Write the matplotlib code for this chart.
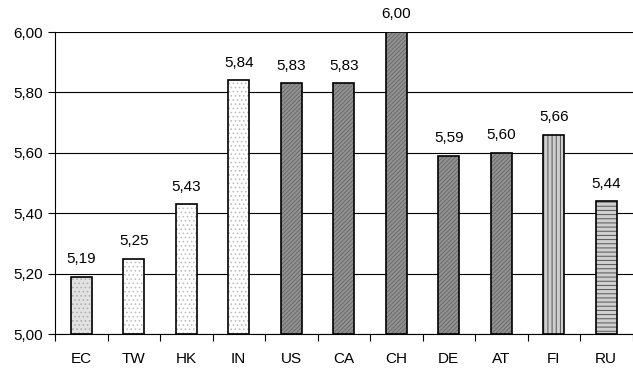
import matplotlib
matplotlib.use("Agg")
import matplotlib.pyplot as plt
import numpy as np

plt.rcParams['font.family'] = ['Liberation Sans', 'DejaVu Sans']
plt.rcParams['hatch.linewidth'] = 0.7

countries = ["EC", "TW", "HK", "IN", "US", "CA", "CH", "DE", "AT", "FI", "RU"]
scores = [5.19, 5.25, 5.43, 5.84, 5.83, 5.83, 6.00, 5.59, 5.60, 5.66, 5.44]
y_ticks = [5.00, 5.20, 5.40, 5.60, 5.80, 6.00]

# fill colour, hatch pattern, hatch colour per group of countries
styles = {
    "EC": ("#e2e2e2", "....", "#b0b0b0"),
    "TW": ("#ffffff", "....", "#c0c0c0"),
    "HK": ("#ffffff", "....", "#c0c0c0"),
    "IN": ("#ffffff", "....", "#c0c0c0"),
    "US": ("#929292", "////////", "#6a6a6a"),
    "CA": ("#929292", "////////", "#6a6a6a"),
    "CH": ("#929292", "////////", "#6a6a6a"),
    "DE": ("#929292", "////////", "#6a6a6a"),
    "AT": ("#929292", "////////", "#6a6a6a"),
    "FI": ("#cfcfcf", "||||", "#555555"),
    "RU": ("#cfcfcf", "----", "#555555"),
}

fig = plt.figure(figsize=(6.33, 3.69), dpi=100)
ax = fig.add_axes([55 / 633, 35 / 369, 577.5 / 633, 302 / 369])

x = np.arange(len(countries))
base = 5.0
heights = [s - base for s in scores]
width = 0.4

for xi, c, h in zip(x, countries, heights):
    fc, hatch, hc = styles[c]
    ax.bar(xi, h, width=width, bottom=base, color=fc, hatch=hatch,
           edgecolor=hc, linewidth=0, zorder=2)
    ax.bar(xi, h, width=width, bottom=base, fill=False,
           edgecolor="black", linewidth=1.2, zorder=3)

for xi, s in zip(x, scores):
    ax.text(xi, s + 0.035, f"{s:.2f}".replace(".", ","), ha="center",
            va="bottom", fontsize=11, color="black")

ax.set_ylim(5.0, 6.0)
ax.set_xlim(-0.5, len(countries) - 0.5)
ax.set_yticks(y_ticks)
ax.set_yticklabels([f"{v:.2f}".replace(".", ",") for v in y_ticks], fontsize=11)
ax.set_xticks(x)
ax.set_xticklabels(countries, fontsize=11)
ax.set_xticks(np.arange(-0.5, len(countries), 1.0), minor=True)
ax.tick_params(axis="x", which="major", length=0, pad=13)
ax.tick_params(axis="x", which="minor", length=5, width=0.8, direction="out")
ax.tick_params(axis="y", length=5, width=0.8, direction="out", pad=4)

ax.grid(axis="y", color="black", linewidth=0.8, zorder=1)
ax.set_axisbelow(True)
for side in ("top", "right"):
    ax.spines[side].set_visible(False)
for side in ("left", "bottom"):
    ax.spines[side].set_linewidth(0.8)

fig.savefig("out.png", dpi=100)
